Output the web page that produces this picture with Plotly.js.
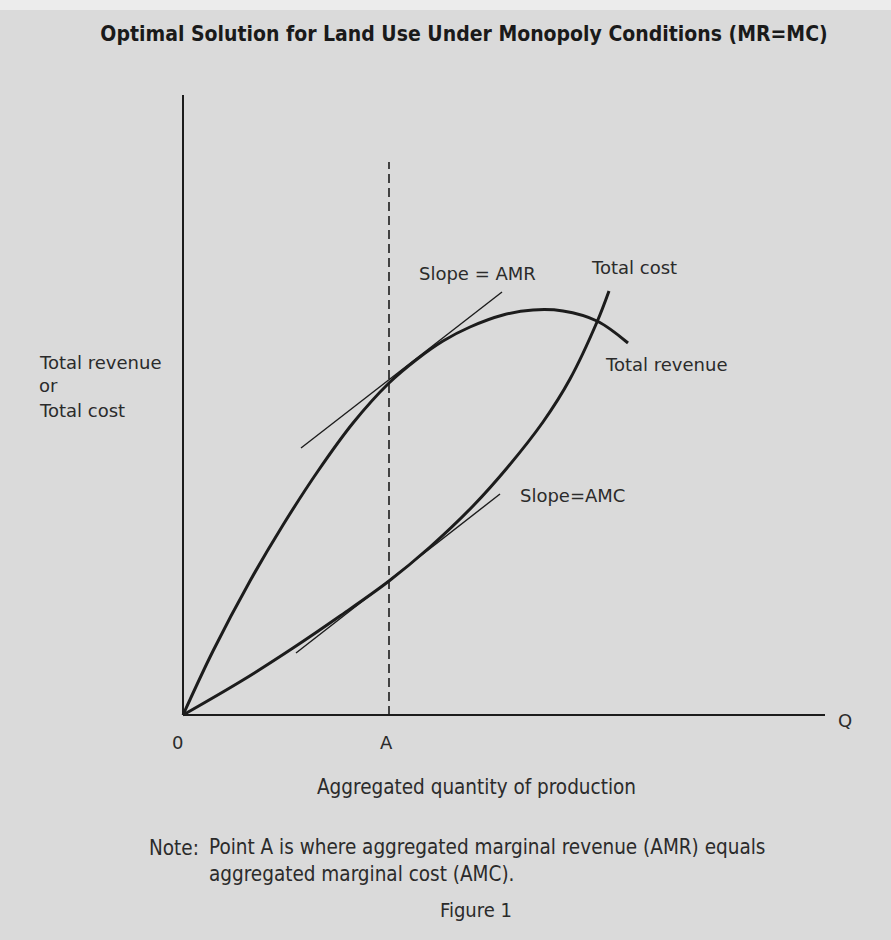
<!DOCTYPE html>
<html>
<head>
<meta charset="utf-8">
<script src="https://cdn.plot.ly/plotly-3.0.1.min.js"></script>
<style>html,body{margin:0;padding:0;background:#dadada;}#chart{width:891px;height:940px;}</style>
</head>
<body>
<div id="chart"></div>
<script>
// Values (units: quantity Q horizontally, revenue/cost vertically, origin at 0)
const trQ = [0, 30, 67, 100, 135, 170, 206, 233, 260, 287, 320, 350, 380, 414, 445];
const trV = [0, 64, 134, 190, 244, 292, 332, 355, 374, 388, 400, 405, 404, 394, 372];
const tcQ = [0, 60, 110, 157, 206, 247, 290, 324, 360, 387, 414, 426];
const tcV = [0, 35, 67, 99, 134, 168, 209, 247, 293, 336, 393, 424];
const amrQ = [118, 319];
const amrV = [267, 423];
const amcQ = [113, 317];
const amcV = [62, 221];
const pointA = 206;
const aTop = 553;
const qAxisEnd = 642;
const vAxisEnd = 620;

const ink = '#1c1c1c';
const txt = '#2b2b2b';
const bodyFont = 'DejaVu Sans, Liberation Sans, sans-serif';
const narrowFont = 'DejaVu Sans Condensed, Liberation Sans Narrow, Arial Narrow, sans-serif';

const traces = [
  {x:[0,0], y:[0,vAxisEnd], mode:'lines', line:{color:ink,width:2}, hoverinfo:'skip'},
  {x:[0,qAxisEnd], y:[0,0], mode:'lines', line:{color:ink,width:2}, hoverinfo:'skip'},
  {x:[pointA,pointA], y:[0,aTop], mode:'lines', line:{color:ink,width:1.6,dash:'9px,5px'}, hoverinfo:'skip'},
  {x:trQ, y:trV, mode:'lines', line:{color:ink,width:3,shape:'spline',smoothing:1}, name:'Total revenue'},
  {x:tcQ, y:tcV, mode:'lines', line:{color:ink,width:3,shape:'spline',smoothing:1}, name:'Total cost'},
  {x:amrQ, y:amrV, mode:'lines', line:{color:ink,width:1.4}, name:'Slope = AMR'},
  {x:amcQ, y:amcV, mode:'lines', line:{color:ink,width:1.4}, name:'Slope=AMC'}
];

function ann(text, x, y, xanchor, size, family, align){
  return {text:text, x:x, y:y, xref:'x', yref:'y', showarrow:false, xanchor:xanchor||'center', yanchor:'middle',
          align:align||'center', font:{family:family||bodyFont, size:size||18, color:txt}};
}

const annotations = [
  ann('0', -6, -27, 'center', 18),
  ann('A', 203, -27, 'center', 18),
  ann('Q', 662, -5, 'center', 18),
  ann('Slope = AMR', 234, 442, 'left', 18),
  ann('Total cost', 406, 448, 'left', 18),
  ann('Total revenue', 420, 351, 'left', 18),
  ann('Slope=AMC', 335, 220, 'left', 18),
  ann('Total revenue', -146, 353, 'left', 18),
  ann('or', -146, 330, 'left', 18),
  ann('Total cost', -146, 305, 'left', 18),
  ann('Aggregated quantity of production', 293, -72, 'center', 20.5, narrowFont),
  ann('Note:', -36, -133, 'left', 20.5, narrowFont),
  ann('Point A is where aggregated marginal revenue (AMR) equals<br>aggregated marginal cost (AMC).', 24, -145, 'left', 20.5, narrowFont, 'left'),
  ann('Figure 1', 293, -195, 'center', 20, narrowFont)
];

const layout = {
  width:891, height:940,
  margin:{l:0,r:0,t:0,b:0},
  paper_bgcolor:'#dadada', plot_bgcolor:'rgba(0,0,0,0)',
  showlegend:false,
  title:{text:'<b>Optimal Solution for Land Use Under Monopoly Conditions (MR=MC)</b>',
         x:464/891, xanchor:'center', xref:'paper', y:1-34/940, yanchor:'middle', yref:'container',
         font:{family:narrowFont, size:21, color:'#1a1a1a'}},
  xaxis:{range:[-183,708], visible:false, fixedrange:true},
  yaxis:{range:[-225,715], visible:false, fixedrange:true},
  shapes:[{type:'rect', xref:'paper', yref:'paper', x0:0, x1:1, y0:1-10/940, y1:1, fillcolor:'#ececec', line:{width:0}, layer:'below'}],
  annotations:annotations
};

Plotly.newPlot('chart', traces, layout, {displayModeBar:false, staticPlot:true});
</script>
</body>
</html>
